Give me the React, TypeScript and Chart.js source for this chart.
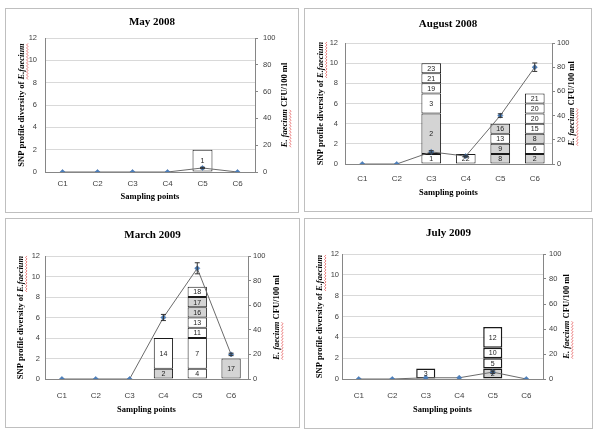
import { useEffect, useRef } from 'react';
import { Chart, registerables } from 'chart.js';
Chart.register(...registerables);

const categories = ['C1', 'C2', 'C3', 'C4', 'C5', 'C6'];
const snpMax = 12;
const snpStep = 2;
const cfuMax = 100;
const cfuStep = 20;

// May 2008 — segment heights bottom-to-top per sampling point
const may2008Heights: number[][] = [[], [], [], [], [2], []];
const may2008Profiles: string[][] = [[], [], [], [], ['1'], []];
const may2008Shaded: boolean[][] = [[], [], [], [], [false], []];
const may2008Cfu = [0, 0, 0, 0, 3, 0];
const may2008CfuErr = [0, 0, 0, 0, 0.5, 0];

// August 2008
const aug2008Heights: number[][] = [[], [], [1, 4, 2, 1, 1, 1], [1], [1, 1, 1, 1], [1, 1, 1, 1, 1, 1, 1]];
const aug2008Profiles: string[][] = [[], [], ['1', '2', '3', '19', '21', '23'], ['22'], ['8', '9', '13', '16'], ['2', '6', '8', '15', '20', '20', '21']];
const aug2008Shaded: boolean[][] = [[], [], [false, true, false, false, false, false], [false], [true, true, false, true], [true, false, true, false, false, false, false]];
const aug2008Cfu = [0, 0, 10, 6.5, 40, 80];
const aug2008CfuErr = [0, 0, 1, 0.8, 1.5, 3.5];

// March 2009
const mar2009Heights: number[][] = [[], [], [], [1, 3], [1, 3, 1, 1, 1, 1, 1], [2]];
const mar2009Profiles: string[][] = [[], [], [], ['2', '14'], ['4', '7', '11', '13', '16', '17', '18'], ['17']];
const mar2009Shaded: boolean[][] = [[], [], [], [true, false], [false, false, false, false, true, true, false], [true]];
const mar2009Cfu = [0, 0, 0, 50, 90, 20];
const mar2009CfuErr = [0, 0, 0, 2.5, 4.5, 1];

// July 2009
const jul2009Heights: number[][] = [[], [], [1], [], [1, 1, 1, 2], []];
const jul2009Profiles: string[][] = [[], [], ['3'], [], ['2', '5', '10', '12'], []];
const jul2009Shaded: boolean[][] = [[], [], [false], [], [true, false, false, false], []];
const jul2009Cfu = [0, 0, 1, 1, 5.5, 0];
const jul2009CfuErr = [0, 0, 0, 0, 1, 0];

type Box = { x: number; y: number; w: number; h: number };
type Area = { l: number; t: number; r: number; b: number };
type PanelDef = {
  title: string;
  heights: number[][];
  profiles: string[][];
  shaded: boolean[][];
  cfu: number[];
  cfuErr: number[];
  box: Box;
  area: Area;
  titleY: number;
  xLabY: number;
  xTitleY: number;
  leftTitleX: number;
  rightTitleX: number;
  lGap: number;
  rGap: number;
  barBorder: number;
};

const panels: PanelDef[] = [
  {
    title: 'May 2008', heights: may2008Heights, profiles: may2008Profiles, shaded: may2008Shaded,
    cfu: may2008Cfu, cfuErr: may2008CfuErr,
    box: { x: 5, y: 8, w: 294, h: 205 }, area: { l: 45, t: 38, r: 255, b: 172 },
    titleY: 22, xLabY: 183, xTitleY: 197, leftTitleX: 22, rightTitleX: 285, lGap: 8, rGap: 8, barBorder: 1,
  },
  {
    title: 'August 2008', heights: aug2008Heights, profiles: aug2008Profiles, shaded: aug2008Shaded,
    cfu: aug2008Cfu, cfuErr: aug2008CfuErr,
    box: { x: 304, y: 8, w: 288, h: 204 }, area: { l: 345, t: 43, r: 552, b: 164 },
    titleY: 24, xLabY: 178, xTitleY: 193, leftTitleX: 321, rightTitleX: 572, lGap: 7, rGap: 5, barBorder: 1,
  },
  {
    title: 'March 2009', heights: mar2009Heights, profiles: mar2009Profiles, shaded: mar2009Shaded,
    cfu: mar2009Cfu, cfuErr: mar2009CfuErr,
    box: { x: 5, y: 218, w: 295, h: 210 }, area: { l: 45, t: 256, r: 248, b: 379 },
    titleY: 235, xLabY: 395, xTitleY: 410, leftTitleX: 21, rightTitleX: 277, lGap: 5, rGap: 5, barBorder: 1,
  },
  {
    title: 'July 2009', heights: jul2009Heights, profiles: jul2009Profiles, shaded: jul2009Shaded,
    cfu: jul2009Cfu, cfuErr: jul2009CfuErr,
    box: { x: 304, y: 218, w: 289, h: 211 }, area: { l: 342, t: 254, r: 543, b: 379 },
    titleY: 233, xLabY: 395, xTitleY: 410, leftTitleX: 320, rightTitleX: 567, lGap: 3, rGap: 6, barBorder: 1.5,
  },
];

const SERIF = '"Liberation Serif", "Times New Roman", serif';
const SANS = '"Liberation Sans", Arial, sans-serif';
const TICK_COLOR = '#404040';
const AXIS_COLOR = '#868686';
const SHADE = '#d4d4d4';

type Part = { text: string; italic: boolean; squiggle?: boolean };

function drawRotated(ctx: CanvasRenderingContext2D, parts: Part[], cx: number, cy: number, size: number) {
  ctx.save();
  ctx.translate(cx, cy);
  ctx.rotate(-Math.PI / 2);
  const fonts = parts.map((p) => `${p.italic ? 'italic ' : ''}bold ${size}px ${SERIF}`);
  const widths = parts.map((p, i) => {
    ctx.font = fonts[i];
    return ctx.measureText(p.text).width;
  });
  const total = widths.reduce((a, b) => a + b, 0);
  let x = -total / 2;
  ctx.textAlign = 'left';
  ctx.textBaseline = 'middle';
  ctx.fillStyle = '#000';
  parts.forEach((p, i) => {
    ctx.font = fonts[i];
    ctx.fillText(p.text, x, 0);
    if (p.squiggle) {
      ctx.beginPath();
      ctx.strokeStyle = 'rgba(225,70,70,0.85)';
      ctx.lineWidth = 0.8;
      let up = false;
      for (let xx = x; xx <= x + widths[i]; xx += 1.5) {
        const yy = size * 0.62 + (up ? -0.7 : 0.7);
        if (xx === x) ctx.moveTo(xx, yy);
        else ctx.lineTo(xx, yy);
        up = !up;
      }
      ctx.stroke();
    }
    x += widths[i];
  });
  ctx.restore();
}

function ChartPanel({ p }: { p: PanelDef }) {
  const ref = useRef<HTMLCanvasElement | null>(null);

  useEffect(() => {
    if (!ref.current) return;
    const { box, area } = p;
    const yW = 24;
    const y1W = 24;
    const xH = 20;
    const padL = area.l - box.x - yW;
    const padR = box.w - (area.r - box.x) - y1W;
    const padT = area.t - box.y;
    const padB = box.h - (area.b - box.y) - xH;

    const layers = Math.max(...p.heights.map((h) => h.length));
    const barSets: any[] = [];
    for (let k = 0; k < layers; k++) {
      barSets.push({
        type: 'bar',
        label: `layer${k}`,
        data: categories.map((_, i) => (p.heights[i][k] !== undefined ? p.heights[i][k] : null)),
        backgroundColor: categories.map((_, i) => (p.shaded[i][k] ? SHADE : '#ffffff')),
        borderColor: '#1a1a1a',
        borderWidth: p.barBorder,
        borderSkipped: false,
        barPercentage: 0.57,
        categoryPercentage: 1,
        yAxisID: 'y',
        order: 2,
      });
    }
    const lineSet = {
      type: 'line',
      label: 'CFU',
      data: p.cfu,
      yAxisID: 'y1',
      borderColor: '#6b6b6b',
      borderWidth: 1,
      pointStyle: 'rectRot',
      pointRadius: 2.6,
      pointBackgroundColor: '#4a7ebb',
      pointBorderColor: '#3d6aa5',
      pointBorderWidth: 0.5,
      tension: 0,
      order: 1,
    };

    const annot = {
      id: 'annot' + p.title.replace(/\s/g, ''),
      afterDatasetsDraw(chart: any) {
        const ctx = chart.ctx as CanvasRenderingContext2D;
        // profile labels
        ctx.save();
        ctx.font = `7px ${SANS}`;
        ctx.fillStyle = '#1a1a1a';
        ctx.textAlign = 'center';
        ctx.textBaseline = 'middle';
        for (let k = 0; k < layers; k++) {
          const meta = chart.getDatasetMeta(k);
          meta.data.forEach((el: any, i: number) => {
            const label = p.profiles[i][k];
            if (label === undefined) return;
            const { x, y, base } = el.getProps(['x', 'y', 'base'], true);
            ctx.fillText(label, x, (y + base) / 2 + 0.5);
          });
        }
        ctx.restore();
        // error bars
        const lineMeta = chart.getDatasetMeta(layers);
        const y1 = chart.scales.y1;
        ctx.save();
        ctx.strokeStyle = '#333';
        ctx.lineWidth = 1;
        lineMeta.data.forEach((pt: any, i: number) => {
          const e = p.cfuErr[i];
          if (!e) return;
          const top = y1.getPixelForValue(p.cfu[i] + e);
          const bot = y1.getPixelForValue(p.cfu[i] - e);
          ctx.beginPath();
          ctx.moveTo(pt.x, top);
          ctx.lineTo(pt.x, bot);
          ctx.moveTo(pt.x - 2.5, top);
          ctx.lineTo(pt.x + 2.5, top);
          ctx.moveTo(pt.x - 2.5, bot);
          ctx.lineTo(pt.x + 2.5, bot);
          ctx.stroke();
        });
        ctx.restore();
      },
      afterDraw(chart: any) {
        const ctx = chart.ctx as CanvasRenderingContext2D;
        const ca = chart.chartArea;
        ctx.save();
        ctx.fillStyle = '#000';
        ctx.textAlign = 'center';
        ctx.textBaseline = 'middle';
        ctx.font = `bold 11px ${SERIF}`;
        ctx.fillText(p.title, box.w / 2, p.titleY - box.y);
        ctx.font = `bold 8.5px ${SERIF}`;
        ctx.fillText('Sampling points', (ca.left + ca.right) / 2, p.xTitleY - box.y);
        ctx.restore();
        const cy = (ca.top + ca.bottom) / 2;
        drawRotated(ctx, [
          { text: 'SNP profile diversity of ', italic: false },
          { text: 'E.faecium', italic: true, squiggle: true },
        ], p.leftTitleX - box.x, cy, 8.5);
        drawRotated(ctx, [
          { text: 'E. faecium', italic: true, squiggle: true },
          { text: ' CFU/100 ml', italic: false },
        ], p.rightTitleX - box.x, cy, 8.5);
      },
    };

    const chart = new Chart(ref.current, {
      type: 'bar',
      data: { labels: categories, datasets: [...barSets, lineSet] as any },
      options: {
        responsive: false,
        animation: false,
        events: [],
        layout: { padding: { left: padL, right: padR, top: padT, bottom: padB } },
        plugins: { legend: { display: false }, tooltip: { enabled: false }, title: { display: false } },
        scales: {
          x: {
            stacked: true,
            grid: { display: false, drawTicks: false },
            border: { display: true, color: AXIS_COLOR },
            ticks: { font: { size: 8, family: SANS }, color: TICK_COLOR, padding: p.xLabY - 4 - area.b, maxRotation: 0 },
            afterFit: (s: any) => { s.height = xH; },
          },
          y: {
            stacked: true,
            min: 0,
            max: snpMax,
            ticks: { stepSize: snpStep, font: { size: 7.5, family: SANS }, color: TICK_COLOR, padding: p.lGap },
            grid: { color: '#d9d9d9', drawTicks: false },
            border: { display: true, color: AXIS_COLOR },
            afterFit: (s: any) => { s.width = yW; },
          },
          y1: {
            position: 'right',
            min: 0,
            max: cfuMax,
            ticks: { stepSize: cfuStep, font: { size: 7.5, family: SANS }, color: TICK_COLOR, padding: Math.max(p.rGap - 3, 1) },
            grid: { drawOnChartArea: false, drawTicks: true, tickLength: 3, color: AXIS_COLOR },
            border: { display: true, color: AXIS_COLOR },
            afterFit: (s: any) => { s.width = y1W; },
          },
        },
      } as any,
      plugins: [annot],
    });
    return () => chart.destroy();
  }, [p]);

  return (
    <>
      <div
        style={{
          position: 'absolute', left: p.box.x, top: p.box.y, width: p.box.w, height: p.box.h,
          border: '1px solid #bfbfbf', boxSizing: 'border-box', background: '#fff',
        }}
      />
      <canvas
        ref={ref}
        width={p.box.w}
        height={p.box.h}
        style={{ position: 'absolute', left: p.box.x, top: p.box.y }}
      />
    </>
  );
}

export default function App() {
  return (
    <div style={{ position: 'fixed', left: 0, top: 0, width: 600, height: 440, background: '#fff', overflow: 'hidden' }}>
      {panels.map((p) => (
        <ChartPanel key={p.title} p={p} />
      ))}
    </div>
  );
}
